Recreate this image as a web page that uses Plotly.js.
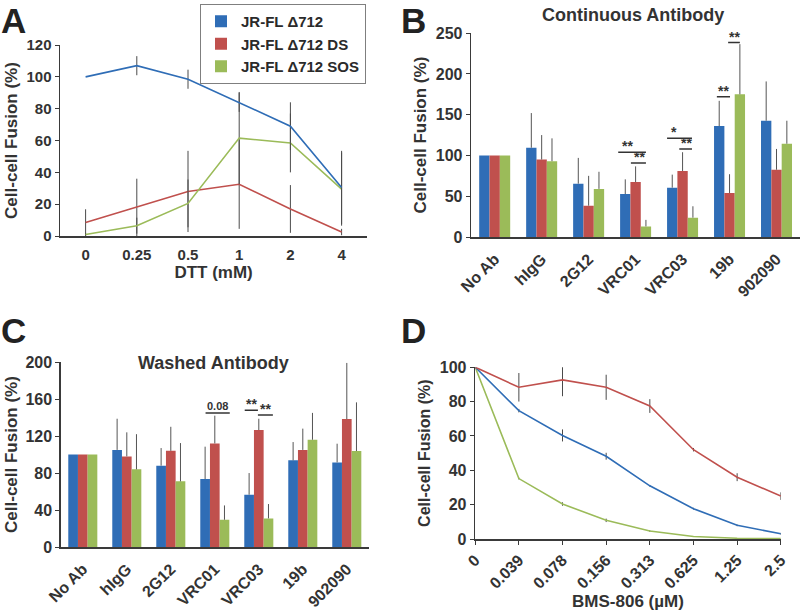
<!DOCTYPE html>
<html>
<head>
<meta charset="utf-8">
<script src="https://cdn.plot.ly/plotly-3.0.1.min.js"></script>
<style>html,body{margin:0;padding:0;background:#fff;}#chart{width:800px;height:614px;}</style>
</head>
<body>
<div id="chart"></div>
<script>
// ---------- data ----------
const seriesNames = ["JR-FL Δ712", "JR-FL Δ712 DS", "JR-FL Δ712 SOS"];
const colors = ["#2f6db6", "#c0504d", "#9bbb59"];

// Panel A
const dttLabels = ["0", "0.25", "0.5", "1", "2", "4"];
const aBlue = [100, 107, 98.5, 84, 69, 30.5];
const aRed = [8.5, 18, 28, 32.5, 17, 2.5];
const aGreen = [1, 6.5, 20.5, 61.5, 58.5, 29.5];
const aBlueErr = [0, 6, 6, 6, 15, 23];
const aRedErr = [8.3, 18, 25.5, 28, 15, 2];
const aGreenErr = [1, 5, 15, 29, 18.5, 23];

// Panel B (continuous antibody)
const abLabels = ["No Ab", "hIgG", "2G12", "VRC01", "VRC03", "19b", "902090"];
const bBlue = [100, 109.5, 65.4, 52.7, 60.5, 136, 142.6];
const bRed = [100, 95, 38.4, 67.4, 81, 54, 82.5];
const bGreen = [100, 93, 59, 13, 23.7, 175, 114.4];
const bBlueErr = [0, 42.5, 31.6, 18, 16, 31, 48.2];
const bRedErr = [0, 30, 36.6, 19.2, 23, 23, 25.5];
const bGreenErr = [0, 28, 21, 8, 14, 61.5, 28.2];

// Panel C (washed antibody)
const cBlue = [100, 105, 88, 73.5, 56.6, 93.7, 91.5];
const cRed = [100, 98, 104, 112, 126.5, 105, 138.4];
const cGreen = [100, 84, 71, 29.5, 31, 116, 103.8];
const cBlueErr = [0, 33.7, 19, 35, 23.4, 19.8, 20.2];
const cRedErr = [0, 26, 26, 30, 12.2, 23, 60.6];
const cGreenErr = [0, 38, 41.4, 15.5, 15.5, 29, 52.6];

// Panel D (BMS-806)
const bmsLabels = ["0", "0.039", "0.078", "0.156", "0.313", "0.625", "1.25", "2.5"];
const dBlue = [100, 74.7, 60.3, 48.2, 31, 17.7, 8, 3.1];
const dRed = [100, 88.3, 92.6, 88.3, 77.4, 52, 36, 25];
const dGreen = [100, 35.2, 20.4, 10.9, 4.7, 1.5, 0.5, 0.3];
const dBlueErr = [0, 1, 3.5, 2, 0.5, 0.5, 0.5, 0.5];
const dRedErr = [0, 8.3, 9.5, 7.3, 4, 1, 2.3, 2.2];
const dGreenErr = [0, 0.5, 1, 1, 0.5, 0, 0, 0];

// significance markers: [category index, line start offset, line end offset, y, label, label offset]
const bSig = [
  [3, -0.37, 0.22, 104, "**", -0.17], [3, -0.10, 0.22, 90.7, "**", 0.08],
  [4, -0.33, 0.20, 121, "*", -0.19], [4, -0.07, 0.20, 108, "**", 0.08],
  [5, -0.27, 0.01, 172, "**", -0.13], [5, -0.03, 0.22, 238.5, "**", 0.10]
];
const cSig = [
  [3, -0.21, 0.34, 145, "0.08", 0.06],
  [4, -0.32, -0.02, 148, "**", -0.17], [4, -0.02, 0.32, 142.7, "**", 0.15]
];

// ---------- build ----------
const axisColor = "#3a3a3a";
const textColor = "#333333";
const errColor = "#4a4a4a";
const traces = [];

function lineTrace(x, y, err, i, xa, ya) {
  return {
    type: "scatter", mode: "lines", x: x, y: y, name: seriesNames[i],
    line: {color: colors[i], width: 1.6}, showlegend: false,
    xaxis: xa, yaxis: ya,
    error_y: {type: "data", array: err, symmetric: true, width: 0, thickness: 1, color: errColor}
  };
}
function barTrace(x, y, err, i, xa, ya, legend) {
  return {
    type: "bar", x: x, y: y, name: seriesNames[i],
    marker: {color: colors[i], line: {width: 0}}, showlegend: legend,
    xaxis: xa, yaxis: ya, offsetgroup: String(i),
    error_y: {type: "data", array: err, arrayminus: err.map(() => 0), symmetric: false, width: 0, thickness: 1, color: "#555555"}
  };
}

// A
traces.push(lineTrace(dttLabels, aRed, aRedErr, 1, "x", "y"));
traces.push(lineTrace(dttLabels, aGreen, aGreenErr, 2, "x", "y"));
traces.push(lineTrace(dttLabels, aBlue, aBlueErr, 0, "x", "y"));
// B
traces.push(barTrace(abLabels, bBlue, bBlueErr, 0, "x2", "y2", true));
traces.push(barTrace(abLabels, bRed, bRedErr, 1, "x2", "y2", true));
traces.push(barTrace(abLabels, bGreen, bGreenErr, 2, "x2", "y2", true));
// C
traces.push(barTrace(abLabels, cBlue, cBlueErr, 0, "x3", "y3", false));
traces.push(barTrace(abLabels, cRed, cRedErr, 1, "x3", "y3", false));
traces.push(barTrace(abLabels, cGreen, cGreenErr, 2, "x3", "y3", false));
// D
traces.push(lineTrace(bmsLabels, dGreen, dGreenErr, 2, "x4", "y4"));
traces.push(lineTrace(bmsLabels, dBlue, dBlueErr, 0, "x4", "y4"));
traces.push(lineTrace(bmsLabels, dRed, dRedErr, 1, "x4", "y4"));

function tf(size) { return {size: size, color: textColor, weight: "bold"}; }

function yax(domain, range, dtick, standoff, tsize, titleSize) {
  return {
    domain: domain, range: range, dtick: dtick, showline: true, linecolor: axisColor, linewidth: 1.5,
    ticks: "outside", ticklen: 4, tickcolor: axisColor, tickfont: tf(tsize), showgrid: false, zeroline: false,
    fixedrange: true,
    title: {text: "Cell-cell Fusion (%)", font: tf(titleSize), standoff: standoff}
  };
}

const shapes = [];
const annotations = [];
function addSig(list, xref, yref) {
  list.forEach(s => {
    shapes.push({type: "line", xref: xref, yref: yref, x0: s[0] + s[1], x1: s[0] + s[2], y0: s[3], y1: s[3],
      line: {color: "#333333", width: 1.5}});
    const small = s[4] === "0.08";
    annotations.push({xref: xref, yref: yref, x: s[0] + s[5], y: s[3], text: s[4],
      showarrow: false, yanchor: "bottom", yshift: small ? 0 : -3, borderpad: 0,
      font: {size: small ? 11 : 14, color: "#333333", weight: "bold"}});
  });
}
addSig(bSig, "x2", "y2");
addSig(cSig, "x3", "y3");

// panel letters & titles
[["A", 0, 1], ["B", 0.5, 1], ["C", 0, 0.495], ["D", 0.5, 0.495]].forEach(p => {
  annotations.push({xref: "paper", yref: "paper", x: p[1], y: p[2], text: p[0], showarrow: false,
    xanchor: "left", yanchor: "top", borderpad: 0, font: {size: 35, color: "#222222", weight: "bold"}});
});
annotations.push({xref: "paper", yref: "paper", x: 633 / 800, y: 1 - 15 / 614, text: "Continuous Antibody",
  showarrow: false, xanchor: "center", yanchor: "middle", font: tf(18)});
annotations.push({xref: "paper", yref: "paper", x: 213 / 800, y: 1 - 363 / 614, text: "Washed Antibody",
  showarrow: false, xanchor: "center", yanchor: "middle", font: tf(18)});

const layout = {
  width: 800, height: 614,
  margin: {l: 0, r: 0, t: 0, b: 0},
  paper_bgcolor: "#ffffff", plot_bgcolor: "#ffffff",
  font: {family: "Liberation Sans, Arial, sans-serif", color: textColor, weight: "bold"},
  barmode: "group", bargap: 0.34, bargroupgap: 0,
  showlegend: true,
  legend: {x: 200 / 800, y: 1 - 4 / 614, xanchor: "left", yanchor: "top", bordercolor: "#7f7f7f", borderwidth: 1,
    bgcolor: "#ffffff", font: {size: 15, color: "#2a2a2a", weight: "bold"}, traceorder: "normal",
    itemwidth: 30, tracegroupgap: 0},
  xaxis: {domain: [0.075, 0.459], type: "category", range: [-0.5, 5.5], anchor: "y", showline: true,
    linecolor: axisColor, linewidth: 1.5, ticks: "", tickfont: tf(15), ticklabelstandoff: 4, showgrid: false,
    title: {text: "DTT (mM)", font: tf(17), standoff: 0}},
  yaxis: Object.assign(yax([0.6156, 0.9267], [0, 120], 20, 4, 15, 17), {anchor: "x"}),
  xaxis2: {domain: [0.589, 1.0], type: "category", range: [-0.5, 6.5], anchor: "y2", showline: true,
    linecolor: axisColor, linewidth: 1.5, ticks: "", tickfont: tf(16), tickangle: -45, ticklabelstandoff: 5, showgrid: false},
  yaxis2: Object.assign(yax([0.614, 0.946], [0, 250], 50, 5, 16, 17), {anchor: "x2"}),
  xaxis3: {domain: [0.076, 0.461], type: "category", range: [-0.5, 6.5], anchor: "y3", showline: true,
    linecolor: axisColor, linewidth: 1.5, ticks: "", tickfont: tf(16), tickangle: -45, ticklabelstandoff: 5, showgrid: false},
  yaxis3: Object.assign(yax([0.109, 0.4104], [0, 200], 40, 3, 16, 17), {anchor: "x3"}),
  xaxis4: {domain: [0.594, 0.976], type: "category", range: [0, 7], anchor: "y4", showline: true,
    linecolor: axisColor, linewidth: 1.5, ticks: "outside", ticklen: 4, tickcolor: axisColor, tickfont: tf(16),
    tickangle: -45, showgrid: false,
    title: {text: "BMS-806 (µM)", font: tf(17), standoff: 0}},
  yaxis4: Object.assign(yax([0.122, 0.402], [0, 100], 20, 5, 16, 16), {anchor: "x4"}),
  shapes: shapes,
  annotations: annotations
};

Plotly.newPlot("chart", traces, layout, {staticPlot: true, displayModeBar: false});
</script>
</body>
</html>
